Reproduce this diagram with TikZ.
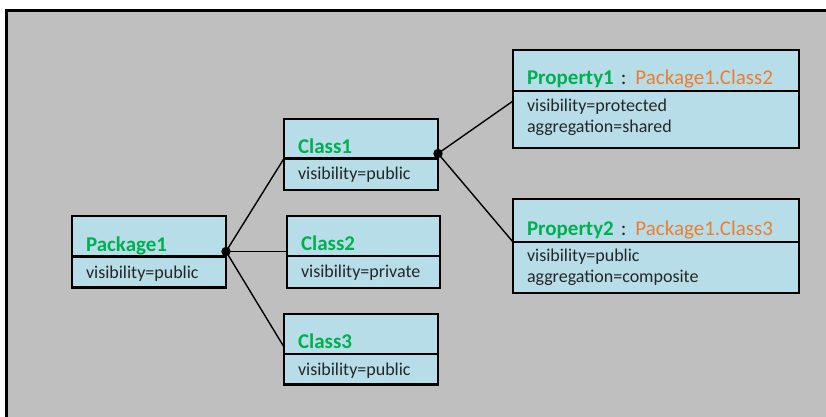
\documentclass[tikz,border=0pt]{standalone}
\usepackage{fontspec}
\setmainfont{Carlito}
\definecolor{bggray}{HTML}{BFBFBF}
\definecolor{boxblue}{HTML}{B7DEE8}
\definecolor{namegreen}{HTML}{00B050}
\definecolor{typeorange}{HTML}{ED7D31}
\definecolor{txt}{HTML}{262626}
\newcommand{\nm}[1]{{\bfseries\color{namegreen}#1}}
\newcommand{\tp}[1]{{\color{typeorange}#1}}
\begin{document}
\begin{tikzpicture}[x=1pt, y=-1pt,
    head/.style={draw, fill=boxblue, line width=2.6pt, outer sep=0pt, anchor=north west, inner xsep=14pt, inner ysep=0pt, align=left, text=txt, font=\fontsize{21}{25}\selectfont},
    body/.style={draw, fill=boxblue, line width=2.6pt, outer sep=0pt, anchor=north west, inner xsep=14pt, inner ysep=0pt, align=left, text=txt, font=\fontsize{18}{21}\selectfont},
    link/.style={line width=1.4pt}]
          \useasboundingbox (0,0) rectangle (826,417);
          \draw [line width=3pt, fill=bggray] (6.5,10.5) rectangle (840,430);
          % package
          \node [head, text width=126pt, text height=35pt, text depth=5.5pt] (pkg) at (72,216) {\nm{Package1}};
          \node [body, text width=126pt, text height=21.5pt, text depth=9.5pt] (pkgb) at (pkg.south west) {visibility=public};
          % classes
          \node [head, text width=126pt, text height=34pt, text depth=5.5pt] (c1) at (284,119) {\nm{Class1}};
          \node [body, text width=126pt, text height=21.3pt, text depth=10pt] (c1b) at (c1.south west) {visibility=public};
          \node [head, text width=125pt, text height=34.5pt, text depth=5.5pt] (c2) at (287,216) {\nm{Class2}};
          \node [body, text width=125pt, text height=21.5pt, text depth=10.5pt] (c2b) at (c2.south west) {visibility=private};
          \node [head, text width=126pt, text height=34pt, text depth=6pt] (c3) at (284,314) {\nm{Class3}};
          \node [body, text width=126pt, text height=21pt, text depth=9.5pt] (c3b) at (c3.south west) {visibility=public};
          % properties
          \node [head, text width=258pt, text height=34.5pt, text depth=6.5pt] (p1) at (513,50) {\nm{Property1} :\hspace{-1.5pt} \tp{Package1.Class2}};
          \node [body, text width=258pt, text height=20.7pt, text depth=36.3pt] (p1b) at (p1.south west) {visibility=protected\\aggregation=shared};
          \node [head, text width=258pt, text height=36pt, text depth=7pt] (p2) at (513,199) {\nm{Property2} :\hspace{-1.5pt} \tp{Package1.Class3}};
          \node [body, text width=258pt, text height=19.7pt, text depth=31.3pt] (p2b) at (p2.south west) {visibility=public\\aggregation=composite};
          % links
          \coordinate (pj) at ([yshift=5pt]pkg.south east);
          \coordinate (cj) at ([yshift=5pt]c1.south east);
          \draw [link] (pj) -- (c1.south west);
          \draw [link] (pj) -- (pj -| c2.west);
          \draw [link] (pj) -- ([yshift=7pt]c3.south west);
          \draw [link] (cj) -- ([yshift=-10pt]p1b.north west);
          \draw [link] (cj) -- (p2.south west);
          \fill (pj) circle (4.7pt);
          \fill (cj) circle (4.7pt);
        \end{tikzpicture}
\end{document}
